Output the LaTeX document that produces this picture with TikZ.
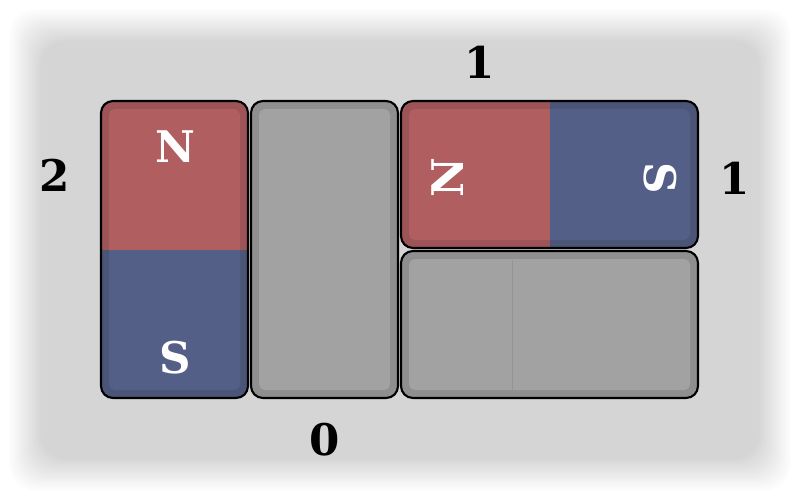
\documentclass[tikz,border=0pt]{standalone}
\usepackage{fontspec}
\setmainfont{DejaVu Serif}
\definecolor{bg}{HTML}{D3D3D3}
\definecolor{redO}{HTML}{9C5456}
\definecolor{redI}{HTML}{B05E60}
\definecolor{bluO}{HTML}{4A5577}
\definecolor{bluI}{HTML}{535F86}
\definecolor{gryO}{HTML}{8F8F8F}
\definecolor{gryI}{HTML}{A2A2A2}
\begin{document}
\begin{tikzpicture}[x=0.025cm,y=-0.025cm,
  lbl/.style={font=\fontsize{31}{31}\selectfont\bfseries, text=black, inner sep=0pt},
  pole/.style={font=\fontsize{31}{31}\selectfont\bfseries, text=white, inner sep=0pt},
  outline/.style={draw=black, line width=1.5pt, rounded corners=8.5pt}]
\useasboundingbox (0,0) rectangle (800,500);
\fill[white] (0,0) rectangle (800,500);
\foreach \i in {0,...,24}{
  \pgfmathtruncatemacro\pc{\i*4}
  \fill[bg!\pc!white, rounded corners=18pt] (8+\i*1.4,8+\i*1.4) rectangle (792-\i*1.4,492-\i*1.4);
}
% vertical magnet
\begin{scope}
  \clip[rounded corners=8.5pt] (101,101) rectangle (248,398);
  \fill[redO] (101,101) rectangle (248,250);
  \fill[bluO] (101,250) rectangle (248,398);
  \clip[rounded corners=4pt] (109,109) rectangle (240,390);
  \fill[redI] (101,101) rectangle (248,250);
  \fill[bluI] (101,250) rectangle (248,398);
\end{scope}
\draw[outline] (101,101) rectangle (248,398);
% gray vertical block
\begin{scope}
  \clip[rounded corners=8.5pt] (251,101) rectangle (398,398);
  \fill[gryO] (251,101) rectangle (398,398);
  \fill[gryI, rounded corners=4pt] (259,109) rectangle (390,390);
\end{scope}
\draw[outline] (251,101) rectangle (398,398);
% horizontal magnet
\begin{scope}
  \clip[rounded corners=8.5pt] (401,101) rectangle (698,248);
  \fill[redO] (401,101) rectangle (550,248);
  \fill[bluO] (550,101) rectangle (698,248);
  \clip[rounded corners=4pt] (409,109) rectangle (690,240);
  \fill[redI] (401,101) rectangle (550,248);
  \fill[bluI] (550,101) rectangle (698,248);
\end{scope}
\draw[outline] (401,101) rectangle (698,248);
% gray horizontal block
\begin{scope}
  \clip[rounded corners=8.5pt] (401,251) rectangle (698,398);
  \fill[gryO] (401,251) rectangle (698,398);
  \fill[gryI, rounded corners=4pt] (409,259) rectangle (690,390);
  \draw[gryO!90!black, line width=0.3pt, opacity=0.4] (512,260) -- (512,390);
\end{scope}
\draw[outline] (401,251) rectangle (698,398);
% pole letters
\node[pole] (n1) at (175,147) {N};
\node[pole] (s1) at (175,358) {S};
\node[pole, rotate=90] (n2) at (448,178) {N};
\node[pole, rotate=-90] (s2) at (660,178) {S};
% counts
\node[lbl] (top2) at (480,62) {1};
\node[lbl] (left0) at (55,175) {2};
\node[lbl] (right0) at (735,178) {1};
\node[lbl] (bot1) at (325,440) {0};
\end{tikzpicture}
\end{document}
